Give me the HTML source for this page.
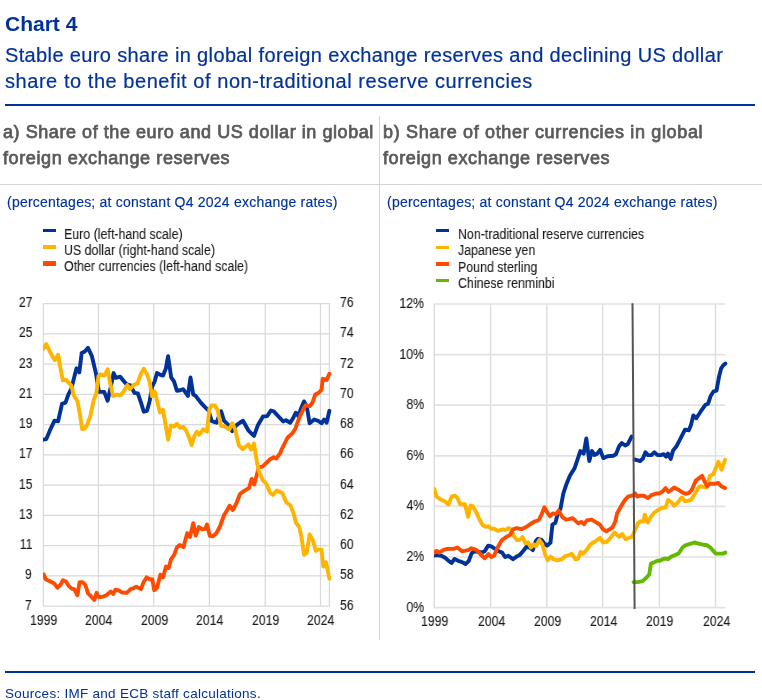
<!DOCTYPE html>
<html><head><meta charset="utf-8">
<style>
html,body{margin:0;padding:0;background:#fff;}
html{overflow:hidden;}
#w{width:762px;height:700px;position:absolute;left:0;top:0;overflow:hidden;}
body{width:762px;height:700px;position:relative;overflow:hidden;font-family:"Liberation Sans",sans-serif;}
.t{position:absolute;white-space:nowrap;line-height:1;will-change:transform;}
.blue{color:#003299;}
.gray{color:#5a5a5a;}
.h1{font-size:21px;font-weight:bold;}
.h2{font-size:20px;-webkit-text-stroke:0.2px #003299;}
.pt{font-size:18px;font-weight:normal;-webkit-text-stroke:0.75px #5a5a5a;letter-spacing:0.6px;}
.sub{font-size:14px;-webkit-text-stroke:0.15px #003299;}
.lg{font-size:14px;color:#1a1a1a;-webkit-text-stroke:0.1px #1a1a1a;transform:scaleX(0.886);transform-origin:0 0;}
.ax{font-size:14px;color:#1a1a1a;-webkit-text-stroke:0.1px #1a1a1a;transform:scaleX(0.879);transform-origin:0 0;}
.axr{transform-origin:100% 0;}
.rule{position:absolute;background:#003299;}
.div{position:absolute;background:#d4d4d4;}
.sw{position:absolute;height:3.6px;width:13px;}
svg{position:absolute;left:0;top:0;}
</style></head><body><div id="w">
<div id="h1" class="t blue h1" style="left:5px;top:13px;">Chart 4</div>
<div id="h2a" class="t blue h2" style="left:5px;top:45px;letter-spacing:0.36px;">Stable euro share in global foreign exchange reserves and declining US dollar</div>
<div id="h2b" class="t blue h2" style="left:5px;top:71px;letter-spacing:0.55px;">share to the benefit of non-traditional reserve currencies</div>
<div class="rule" style="left:5px;top:104px;width:750px;height:2px;"></div>
<div id="pa1" class="t gray pt" style="left:3px;top:123px;letter-spacing:0.56px;">a) Share of the euro and US dollar in global</div>
<div id="pa2" class="t gray pt" style="left:3px;top:149px;">foreign exchange reserves</div>
<div id="pb1" class="t gray pt" style="left:383px;top:123px;letter-spacing:0.66px;">b) Share of other currencies in global</div>
<div id="pb2" class="t gray pt" style="left:383px;top:149px;">foreign exchange reserves</div>
<div class="div" style="left:0;top:184px;width:762px;height:1px;"></div>
<div class="div" style="left:379px;top:116px;width:1px;height:524px;"></div>
<div id="sa" class="t blue sub" style="left:7px;top:195px;letter-spacing:0.22px;">(percentages; at constant Q4 2024 exchange rates)</div>
<div id="sb" class="t blue sub" style="left:387px;top:195px;letter-spacing:0.22px;">(percentages; at constant Q4 2024 exchange rates)</div>
<div class="rule" style="left:5px;top:671px;width:750px;height:2px;"></div>
<div id="src" class="t blue" style="left:5px;top:686.8px;font-size:13.5px;letter-spacing:0.27px;">Sources: IMF and ECB staff calculations.</div>

<div class="sw" style="left:42.8px;top:228.8px;height:3.1px;background:#003299;"></div>
<div id="la0" class="t lg" style="left:64.3px;top:226.7px;">Euro (left-hand scale)</div>
<div class="sw" style="left:42.8px;top:245.4px;height:3.8px;background:#ffb400;"></div>
<div id="la1" class="t lg" style="left:64.3px;top:242.7px;">US dollar (right-hand scale)</div>
<div class="sw" style="left:42.8px;top:261.2px;height:4.6px;background:#ff4b00;"></div>
<div id="la2" class="t lg" style="left:64.3px;top:258.7px;">Other currencies (left-hand scale)</div>
<div class="sw" style="left:435.8px;top:228.6px;height:3.6px;background:#003299;"></div>
<div id="lb0" class="t lg" style="left:457.6px;top:226.9px;">Non-traditional reserve currencies</div>
<div class="sw" style="left:435.8px;top:245.5px;height:3.6px;background:#ffb400;"></div>
<div id="lb1" class="t lg" style="left:457.6px;top:243.3px;">Japanese yen</div>
<div class="sw" style="left:435.8px;top:262.2px;height:3.8px;background:#ff4b00;"></div>
<div id="lb2" class="t lg" style="left:457.6px;top:259.5px;">Pound sterling</div>
<div class="sw" style="left:435.8px;top:278.9px;height:3.6px;background:#65b800;"></div>
<div id="lb3" class="t lg" style="left:457.6px;top:275.7px;">Chinese renminbi</div>
<div id="yl27" class="t ax axr" style="right:729.8px;top:295.1px;">27</div>
<div id="yl25" class="t ax axr" style="right:729.8px;top:325.4px;">25</div>
<div id="yl23" class="t ax axr" style="right:729.8px;top:355.6px;">23</div>
<div id="yl21" class="t ax axr" style="right:729.8px;top:385.9px;">21</div>
<div id="yl19" class="t ax axr" style="right:729.8px;top:416.2px;">19</div>
<div id="yl17" class="t ax axr" style="right:729.8px;top:446.4px;">17</div>
<div id="yl15" class="t ax axr" style="right:729.8px;top:476.7px;">15</div>
<div id="yl13" class="t ax axr" style="right:729.8px;top:506.9px;">13</div>
<div id="yl11" class="t ax axr" style="right:729.8px;top:537.2px;">11</div>
<div id="yl9" class="t ax axr" style="right:729.8px;top:567.4px;">9</div>
<div id="yl7" class="t ax axr" style="right:729.8px;top:597.7px;">7</div>
<div id="yr76" class="t ax" style="left:339.8px;top:295.1px;">76</div>
<div id="yr74" class="t ax" style="left:339.8px;top:325.4px;">74</div>
<div id="yr72" class="t ax" style="left:339.8px;top:355.6px;">72</div>
<div id="yr70" class="t ax" style="left:339.8px;top:385.9px;">70</div>
<div id="yr68" class="t ax" style="left:339.8px;top:416.2px;">68</div>
<div id="yr66" class="t ax" style="left:339.8px;top:446.4px;">66</div>
<div id="yr64" class="t ax" style="left:339.8px;top:476.7px;">64</div>
<div id="yr62" class="t ax" style="left:339.8px;top:506.9px;">62</div>
<div id="yr60" class="t ax" style="left:339.8px;top:537.2px;">60</div>
<div id="yr58" class="t ax" style="left:339.8px;top:567.4px;">58</div>
<div id="yr56" class="t ax" style="left:339.8px;top:597.7px;">56</div>
<div id="xl1999" class="t ax" style="left:30.2px;top:612.75px;">1999</div>
<div id="xl2004" class="t ax" style="left:85.2px;top:612.75px;">2004</div>
<div id="xl2009" class="t ax" style="left:140.5px;top:612.75px;">2009</div>
<div id="xl2014" class="t ax" style="left:196.2px;top:612.75px;">2014</div>
<div id="xl2019" class="t ax" style="left:252.1px;top:612.75px;">2019</div>
<div id="xl2024" class="t ax" style="left:307.3px;top:612.75px;">2024</div>
<div id="yb12" class="t ax axr" style="right:338px;top:295.9px;">12%</div>
<div id="yb10" class="t ax axr" style="right:338px;top:346.5px;">10%</div>
<div id="yb8" class="t ax axr" style="right:338px;top:397.1px;">8%</div>
<div id="yb6" class="t ax axr" style="right:338px;top:447.7px;">6%</div>
<div id="yb4" class="t ax axr" style="right:338px;top:498.2px;">4%</div>
<div id="yb2" class="t ax axr" style="right:338px;top:548.9px;">2%</div>
<div id="yb0" class="t ax axr" style="right:338px;top:599.5px;">0%</div>
<div id="xr1999" class="t ax" style="left:421.3px;top:614.3px;">1999</div>
<div id="xr2004" class="t ax" style="left:477.6px;top:614.3px;">2004</div>
<div id="xr2009" class="t ax" style="left:533.8px;top:614.3px;">2009</div>
<div id="xr2014" class="t ax" style="left:589.6px;top:614.3px;">2014</div>
<div id="xr2019" class="t ax" style="left:646.4px;top:614.3px;">2019</div>
<div id="xr2024" class="t ax" style="left:702.5px;top:614.3px;">2024</div>
<svg width="762" height="700" viewBox="0 0 762 700" fill="none">
<path d="M43.0 303.70H330.0M43.0 333.95H330.0M43.0 364.20H330.0M43.0 394.45H330.0M43.0 424.70H330.0M43.0 454.95H330.0M43.0 485.20H330.0M43.0 515.45H330.0M43.0 545.70H330.0M43.0 575.95H330.0M43.0 606.20H330.0M43.40 303.7V606.2M98.45 303.7V606.2M153.70 303.7V606.2M209.40 303.7V606.2M265.25 303.7V606.2M320.50 303.7V606.2M329.4 303.7V606.2" stroke="#d9d9d9" stroke-width="1.2"/>
<path d="M434.30 304.0V607.6M490.55 304.0V607.6M546.80 304.0V607.6M602.60 304.0V607.6M659.40 304.0V607.6M715.50 304.0V607.6" stroke="#dcdcdc" stroke-width="1.4"/>
<path d="M433.6 304.00H725.1M433.6 354.60H725.1M433.6 405.20H725.1M433.6 455.80H725.1M433.6 506.40H725.1M433.6 557.00H725.1M433.6 607.60H725.1" stroke="#e2e2e2" stroke-width="1.7"/>
<defs><clipPath id="ca"><rect x="43" y="290" width="300" height="330"/></clipPath><clipPath id="cb"><rect x="434" y="290" width="310" height="330"/></clipPath></defs>
<path d="M43.5 439.6L46.3 439.1L49.7 430.9L54.5 420.7L58.1 421.2L62.0 403.9L65.5 402.6L68.3 394.7L71.4 388.5L76.5 368.3L79.3 372.4L81.7 353.1L84.8 351.5L88.0 347.9L91.9 356.2L95.8 372.7L99.0 391.9L104.2 391.9L107.6 400.7L110.8 386.9L113.6 373.1L115.8 377.8L120.2 376.7L126.2 384.1L130.4 385.3L134.4 392.9L137.9 393.5L141.0 402.6L143.8 411.7L147.0 410.8L149.7 401.0L152.0 386.9L154.4 382.2L157.0 373.1L159.9 374.6L163.0 375.6L165.8 368.8L168.1 356.2L171.2 377.5L174.0 381.4L176.9 390.8L180.3 390.3L183.1 389.2L185.8 392.9L187.9 396.0L190.5 377.5L193.2 394.4L195.7 396.0L200.8 402.6L205.5 407.6L208.6 410.5L211.8 421.2L216.5 422.7L218.8 416.8L221.2 411.3L224.0 420.7L228.5 425.2L232.3 431.2L236.0 425.6L239.8 422.7L243.0 420.8L248.3 430.3L254.0 435.9L257.7 425.6L263.0 416.5L267.2 416.1L270.9 410.5L273.8 411.4L278.5 416.5L283.2 421.4L286.0 420.3L290.2 422.7L293.2 418.0L295.8 412.7L298.3 416.1L301.1 408.2L304.0 401.4L306.8 406.7L309.6 423.3L314.3 419.5L318.1 420.8L321.5 423.3L324.2 419.5L326.6 422.7L329.4 410.8" stroke="#003299" stroke-width="3.9" stroke-linejoin="round" stroke-linecap="round" clip-path="url(#ca)"/>
<path d="M43.8 574.5L45.7 579.2L50.4 581.5L54.2 583.4L57.4 587.7L60.4 584.9L63.0 580.2L66.0 581.5L68.7 585.8L71.7 588.7L74.3 589.1L77.4 595.3L79.6 582.1L82.5 582.1L85.3 584.9L88.1 593.4L90.9 596.2L94.3 600.0L96.6 592.8L98.9 597.2L103.2 596.6L106.4 595.3L110.8 591.5L113.2 594.0L115.5 589.6L118.3 590.2L122.1 592.5L126.8 592.8L130.6 589.1L133.4 588.3L136.2 586.8L140.9 589.1L143.4 582.6L146.6 577.4L149.4 579.2L152.3 579.2L154.2 590.2L157.0 587.7L160.4 574.7L163.0 577.4L166.0 566.6L168.7 567.9L171.1 559.1L174.0 555.3L176.8 547.7L179.6 544.9L183.4 547.2L187.2 533.2L190.0 537.0L193.2 523.2L195.7 535.5L198.9 527.0L202.3 529.4L205.1 528.9L207.0 524.5L209.8 535.8L212.6 536.4L216.4 533.2L220.2 526.0L224.0 515.1L226.8 510.9L229.6 505.7L232.8 510.0L236.2 503.8L240.0 494.0L243.8 491.1L249.1 487.9L251.7 478.9L254.2 484.5L257.0 474.2L258.7 467.4L262.5 466.6L269.4 459.8L273.8 457.2L276.2 458.5L280.4 452.8L281.3 450.1L285.1 442.5L287.5 437.8L292.6 433.1L295.5 428.4L299.2 418.0L304.0 407.6L305.8 405.2L309.6 406.3L312.5 402.5L315.3 394.4L319.1 392.5L321.5 389.7L322.8 378.8L326.6 379.9L329.4 373.7" stroke="#ff4b00" stroke-width="3.9" stroke-linejoin="round" stroke-linecap="round" clip-path="url(#ca)"/>
<path d="M43.5 348.8L46.3 344.1L49.1 349.9L52.3 356.2L54.9 360.2L58.1 354.7L60.1 366.4L62.8 380.3L65.9 379.8L71.4 385.6L73.8 395.5L77.4 401.0L80.1 415.2L82.1 429.0L84.8 428.6L87.2 424.6L90.6 415.2L93.5 401.0L96.3 393.2L98.5 375.9L100.5 374.3L104.5 375.6L107.6 369.3L110.0 382.2L113.1 396.0L117.0 394.7L120.2 395.5L123.3 391.9L127.3 385.0L129.9 389.2L133.1 385.6L133.5 385.0L137.5 383.4L140.7 374.3L143.8 368.8L147.0 374.3L149.7 382.2L152.0 396.3L154.8 391.6L157.5 402.6L159.9 412.4L163.0 409.7L165.8 426.2L168.1 439.6L170.9 425.4L174.0 426.5L176.9 423.8L180.0 427.8L183.5 427.0L186.3 430.9L189.0 437.2L191.6 445.1L194.5 435.6L196.8 431.7L199.2 434.8L203.1 429.3L207.0 431.7L209.4 408.9L211.8 405.4L214.9 405.4L217.7 410.2L220.9 425.9L224.3 426.2L225.7 427.1L229.4 429.3L232.3 423.3L235.1 429.3L238.9 445.4L242.6 449.2L248.3 444.4L251.1 449.7L254.0 443.5L256.8 461.3L258.7 470.8L262.5 479.8L266.2 483.6L270.0 492.5L273.2 494.9L276.6 490.6L282.3 493.0L286.4 502.5L290.2 505.1L293.6 513.2L295.8 522.6L299.2 527.0L301.5 537.2L304.0 554.7L306.8 552.8L309.6 534.5L312.8 540.2L315.8 550.9L318.1 549.6L321.5 549.6L323.4 566.6L326.0 562.3L329.4 578.7" stroke="#ffb400" stroke-width="3.9" stroke-linejoin="round" stroke-linecap="round" clip-path="url(#ca)"/>
<path d="M434.2 555.5L437.5 555.1L441.3 555.8L445.1 557.7L448.9 561.1L451.7 563.0L454.5 558.9L458.3 560.8L462.1 562.1L465.5 564.0L468.7 561.1L471.5 553.6L474.3 551.3L478.1 551.7L481.9 552.6L484.7 551.3L488.1 545.7L491.3 546.4L495.1 548.9L498.9 551.3L502.1 552.6L505.1 557.0L508.3 555.8L513.0 559.2L516.8 556.4L519.6 555.1L523.4 550.8L526.2 547.0L530.0 547.5L532.8 550.2L535.7 541.3L537.8 538.9L541.6 539.8L544.4 543.6L547.3 545.5L550.5 542.6L552.4 524.7L555.4 522.8L557.6 514.3L560.5 508.7L563.3 493.6L566.1 485.1L569.9 475.7L574.6 468.1L577.5 459.6L580.3 451.1L583.7 453.6L586.3 438.5L589.3 461.1L592.0 451.1L594.4 454.9L597.3 453.6L600.1 449.8L603.3 458.1L607.6 456.2L613.3 455.8L616.1 454.0L619.0 446.4L621.8 443.0L625.2 445.5L627.8 444.2L631.6 436.6" stroke="#003299" stroke-width="3.9" stroke-linejoin="round" stroke-linecap="round" clip-path="url(#cb)"/>
<path d="M634.6 459.5L638.8 460.6L640.1 461.1L642.9 458.5L645.4 452.3L648.0 455.1L651.4 455.1L654.2 452.3L657.5 455.1L660.8 455.1L663.7 454.2L666.1 456.6L668.0 453.6L670.7 458.9L673.1 450.4L676.3 446.6L680.7 438.1L685.0 429.6L688.8 430.2L691.0 424.9L693.3 415.5L696.3 418.3L700.5 411.7L705.2 405.1L708.0 403.8L710.8 395.7L713.7 391.3L716.5 390.6L719.0 376.8L721.2 368.3L723.1 365.5L725.4 363.6" stroke="#003299" stroke-width="3.9" stroke-linejoin="round" stroke-linecap="round" clip-path="url(#cb)"/>
<path d="M434.2 489.1L436.6 496.6L441.3 499.8L445.5 501.7L448.5 504.5L451.7 496.6L454.5 495.5L457.4 497.9L460.2 504.2L464.9 504.2L468.1 516.8L470.6 505.5L473.0 506.4L476.2 512.1L480.0 520.6L482.8 525.3L485.7 526.8L488.5 526.2L491.3 528.7L494.2 528.7L497.9 530.9L502.6 529.4L505.5 530.0L508.3 528.1L511.1 529.4L514.0 536.2L516.8 540.0L519.6 540.0L522.5 537.0L525.3 543.2L528.1 542.3L530.9 547.5L533.4 544.2L535.7 546.4L539.4 540.0L542.3 544.2L545.1 554.5L547.9 560.2L550.5 556.6L553.9 559.4L557.6 560.4L561.4 559.4L565.2 556.2L569.0 555.1L571.8 553.8L575.6 559.4L578.0 558.9L580.7 551.9L583.1 553.8L586.9 549.4L589.7 545.3L592.5 543.0L596.3 540.6L600.1 537.7L602.9 542.5L606.7 541.9L610.5 537.7L614.6 532.5L619.0 536.8L622.2 534.0L625.6 539.2L629.3 537.7L632.2 536.8L635.0 530.2L637.8 523.6L640.7 521.1L643.5 521.7L644.8 514.7L647.8 522.6L651.0 516.6L651.4 516.4L654.2 512.6L658.0 510.2L661.8 507.9L665.6 507.5L668.0 500.0L671.2 501.9L674.1 505.7L677.8 502.6L681.6 497.5L685.4 501.3L691.0 500.0L694.8 493.8L699.5 486.2L703.3 486.8L706.5 487.5L709.9 475.8L713.3 474.3L715.6 468.3L718.4 461.7L721.6 469.8L725.0 459.8" stroke="#ffb400" stroke-width="3.9" stroke-linejoin="round" stroke-linecap="round" clip-path="url(#cb)"/>
<path d="M434.2 552.6L436.6 550.8L439.4 552.6L443.2 550.2L447.0 548.9L453.6 548.9L457.4 547.5L462.1 551.3L467.7 550.2L471.5 548.3L476.2 549.8L480.9 554.5L484.7 558.3L488.5 554.0L491.3 557.0L494.2 555.5L497.9 547.0L501.7 540.4L505.5 537.5L510.2 534.7L513.0 529.4L516.8 528.1L521.5 529.1L525.3 527.5L530.0 524.3L534.7 521.5L538.8 520.0L541.6 514.3L544.4 507.2L547.3 512.5L550.1 516.2L552.9 513.4L555.8 514.3L558.6 510.6L562.4 517.2L566.1 519.6L569.0 519.1L572.7 518.1L575.6 520.9L578.4 523.4L581.2 521.9L584.1 524.2L586.9 520.4L591.6 519.6L595.4 521.9L600.1 524.7L602.9 529.1L606.3 531.3L609.5 529.4L612.4 527.5L615.2 521.9L617.1 513.4L621.8 504.9L625.6 499.2L628.4 496.4L633.1 495.5L635.0 493.2L637.3 496.6L640.1 495.7L643.9 495.7L648.0 498.1L651.4 495.1L655.2 493.8L659.9 493.2L662.7 491.3L665.6 488.1L668.4 491.9L671.2 490.0L674.1 487.5L677.8 489.4L681.6 491.9L685.4 493.8L689.2 492.8L692.0 489.4L695.8 480.6L699.5 477.7L702.0 475.8L704.2 480.6L707.1 486.2L709.9 483.8L714.6 483.8L718.4 483.0L721.2 486.2L725.0 488.1" stroke="#ff4b00" stroke-width="3.9" stroke-linejoin="round" stroke-linecap="round" clip-path="url(#cb)"/>
<path d="M633.5 582.1L637.8 582.1L642.5 581.1L646.3 577.7L649.2 574.5L651.0 563.6L654.2 562.3L657.5 560.8L659.9 560.8L662.7 559.2L666.1 558.5L668.0 559.2L671.2 556.6L675.9 554.7L678.8 553.2L682.5 547.5L685.4 545.3L690.1 543.8L694.4 542.5L699.5 543.8L703.3 544.7L707.1 545.3L710.8 547.9L713.7 551.3L715.9 553.6L720.3 553.6L723.1 553.6L725.4 552.6" stroke="#65b800" stroke-width="3.9" stroke-linejoin="round" stroke-linecap="round" clip-path="url(#cb)"/>
<path d="M632.5 303.3L634.6 609" stroke="#555555" stroke-width="2"/>
</svg>
</div></body></html>
